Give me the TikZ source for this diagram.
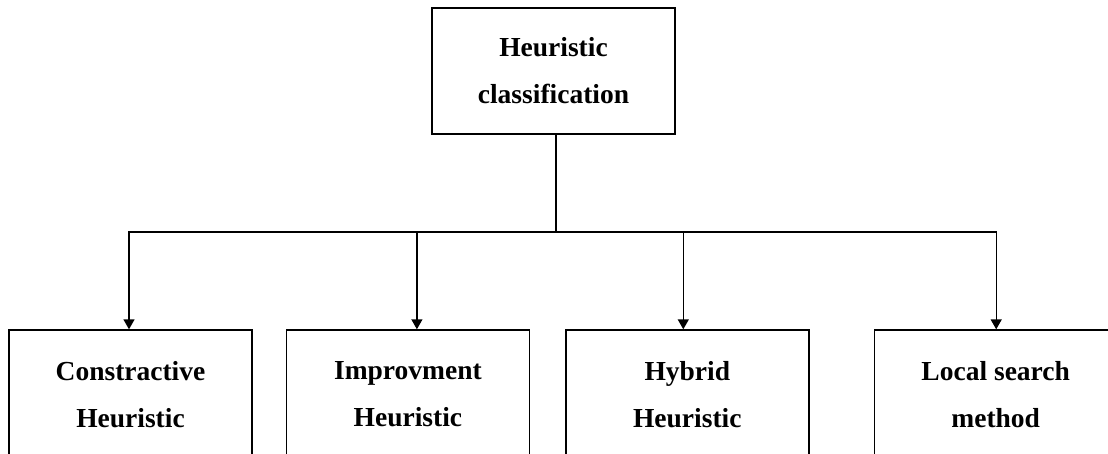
\documentclass[tikz,border=0pt]{standalone}
\usepackage{fontspec}
\setmainfont{Liberation Serif}
\usepackage{tikz}
\usetikzlibrary{positioning}
\usetikzlibrary{arrows.meta}

\begin{document}
\begin{tikzpicture}[x=1pt, y=-1pt, >={Triangle[width=11pt,length=10pt]},
        line width=1.4pt,
        box/.style={draw, rectangle, minimum width=243pt, inner sep=0pt,
            align=center, font=\fontsize{27.5}{47}\selectfont\bfseries}]
            \useasboundingbox (0,0) rectangle (1108,454);

            \node [box, minimum height=126pt] (heur) at (553.5,71) {Heuristic\\classification};

            \node [box, minimum height=129pt] (cons) at (130.5,394.5) {Constractive\\Heuristic};
            \node [box, minimum height=129pt, right=33pt of cons] (impr) {Improvment\\Heuristic};
            \node [box, minimum height=129pt, right=35pt of impr] (hyb) {Hybrid\\Heuristic};
            \node [box, minimum height=129pt, right=64pt of hyb] (local) {Local search\\method};

            \coordinate (split) at (556,232);

            \draw (split |- heur.south) -- (split);
            \draw [->] (split) -| ([xshift=-1.5pt]cons.north);
            \draw [->] (split) -| ([xshift=9pt]impr.north);
            \draw [->] (split) -| ([xshift=-4pt]hyb.north);
            \draw [->] (split) -| ([xshift=0.5pt]local.north);

        \end{tikzpicture}
\end{document}
